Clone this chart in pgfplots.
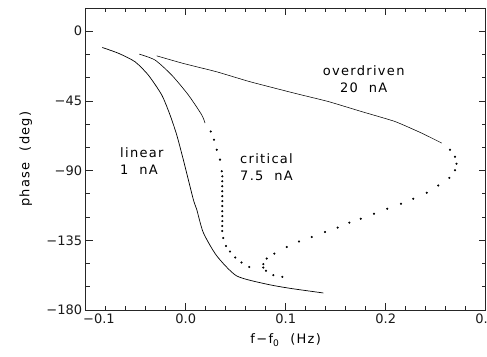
\documentclass[border=0pt]{standalone}
\usepackage{fontspec}
\setmainfont{DejaVu Sans}
\newfontfamily\lblfont{DejaVu Sans}[LetterSpace=10]
\usepackage{pgfplots}
\pgfplotsset{compat=1.18}
\begin{document}
\begin{tikzpicture}
\begin{axis}[
  name=ax,
  at={(0,0)}, anchor=south west,
  scale only axis,
  width=400pt, height=302pt,
  xmin=-0.1, xmax=0.3, ymin=-180, ymax=15,
  xtick={-0.1,0,0.1,0.2,0.3},
  xticklabels={\makebox[0pt][l]{\hspace{-2.5pt}−0.1},0.0,0.1,0.2,0.3},
  ytick={-180,-135,-90,-45,0},
  yticklabels={−180,−135,−90,−45,0},
  minor x tick num=4, minor y tick num=2,
  tick align=inside,
  major tick length=7pt, minor tick length=4pt,
  xtick pos=both, ytick pos=both,
  xticklabel pos=lower, yticklabel pos=left,
  axis line style={line width=0.9pt, black!85},
  every tick/.style={black!85, line width=0.7pt},
  tick label style={font=\fontsize{13}{15}\selectfont, black!90},
  every axis x label/.style={at={(axis description cs:0.5,0)}, yshift=-30pt, anchor=center, font=\lblfont\fontsize{13}{15}\selectfont},
  every axis y label/.style={at={(axis description cs:0,0.5)}, xshift=-60pt, rotate=90, anchor=center, font=\lblfont\fontsize{13}{15}\selectfont},
  xlabel={f−f\textsubscript{0}\ \ (Hz)},
  ylabel={phase\ \ (deg)},
  clip=false,
]
% linear 1 nA
\addplot[black, line width=0.7pt, smooth, tension=0.4] coordinates {
(-0.0834,-10.5) (-0.067,-14.3) (-0.0507,-19.7) (-0.0374,-28.3) (-0.024,-41.1)
(-0.0157,-54) (-0.009,-66.9) (-0.0024,-82.9) (0.0076,-108.6) (0.011,-115)
(0.0176,-130) (0.031,-145) (0.051,-158) (0.081,-163.3) (0.1043,-166) (0.1376,-169)
};
% critical 7.5 nA, solid part
\addplot[black, line width=0.6pt, smooth, tension=0.4] coordinates {
(-0.0464,-14.8) (-0.0307,-18.6) (-0.014,-28.3) (0.0026,-41.1) (0.016,-54) (0.0193,-59.3)
};
% critical 7.5 nA, dotted part
\addplot[only marks, mark=*, mark size=0.85pt, black] coordinates {
(0.025,-64.7) (0.0283,-70) (0.031,-76.5) (0.0343,-82.9) (0.036,-90.4)
(0.0366,-93.7) (0.0366,-96.9) (0.0366,-100.1) (0.0366,-103.3) (0.0366,-106.5)
(0.0366,-109.7) (0.0366,-112.9) (0.0366,-116.2) (0.0366,-119.4) (0.0366,-122.6)
(0.0366,-125.8) (0.0366,-129) (0.0375,-133.5) (0.0403,-138.7) (0.0443,-142.3)
(0.0496,-146.1) (0.0558,-149.3) (0.0636,-152.2)
};
% overdriven 20 nA, solid part
\addplot[black, line width=0.55pt, smooth, tension=0.3] coordinates {
(-0.029,-15.9) (-0.0024,-20.8) (0.031,-26.2) (0.0643,-32.6) (0.1093,-40.1)
(0.1426,-45.4) (0.176,-51.9) (0.2093,-58.3) (0.236,-65.8) (0.256,-72.2)
};
% overdriven 20 nA, dotted part
\addplot[only marks, mark=*, mark size=0.85pt, black] coordinates {
(0.2643,-76.5) (0.2693,-81) (0.2708,-85.5) (0.2693,-89.7) (0.2636,-94.7)
(0.2526,-99.6) (0.241,-104.3) (0.2276,-108.2) (0.2153,-111.4) (0.2016,-114.6)
(0.1883,-117.8) (0.175,-121.1) (0.1636,-123.6) (0.152,-126.8) (0.1393,-129.7)
(0.126,-132.9) (0.1133,-135.8) (0.101,-139.3) (0.0886,-143.6) (0.081,-146.8)
(0.0776,-150.4) (0.0776,-152.6) (0.0803,-154.7) (0.0876,-157.5) (0.0966,-158.6)
};
\node[anchor=west, align=left, font=\lblfont\fontsize{13}{17}\selectfont, inner sep=0pt] at (axis cs:-0.0657,-84) {linear\\1\ \ nA};
\node[anchor=west, align=left, font=\lblfont\fontsize{13}{17}\selectfont, inner sep=0pt] at (axis cs:0.0543,-88) {critical\\7.5\ \ nA};
\node[anchor=center, align=center, font=\lblfont\fontsize{13}{17}\selectfont, inner sep=0pt] at (axis cs:0.178,-31) {overdriven\\20\ \ nA};
\end{axis}
\pgfresetboundingbox
\path ([xshift=-85.7pt,yshift=-46pt]ax.south west) rectangle ([xshift=1.3pt,yshift=8pt]ax.north east);
\end{tikzpicture}
\end{document}
